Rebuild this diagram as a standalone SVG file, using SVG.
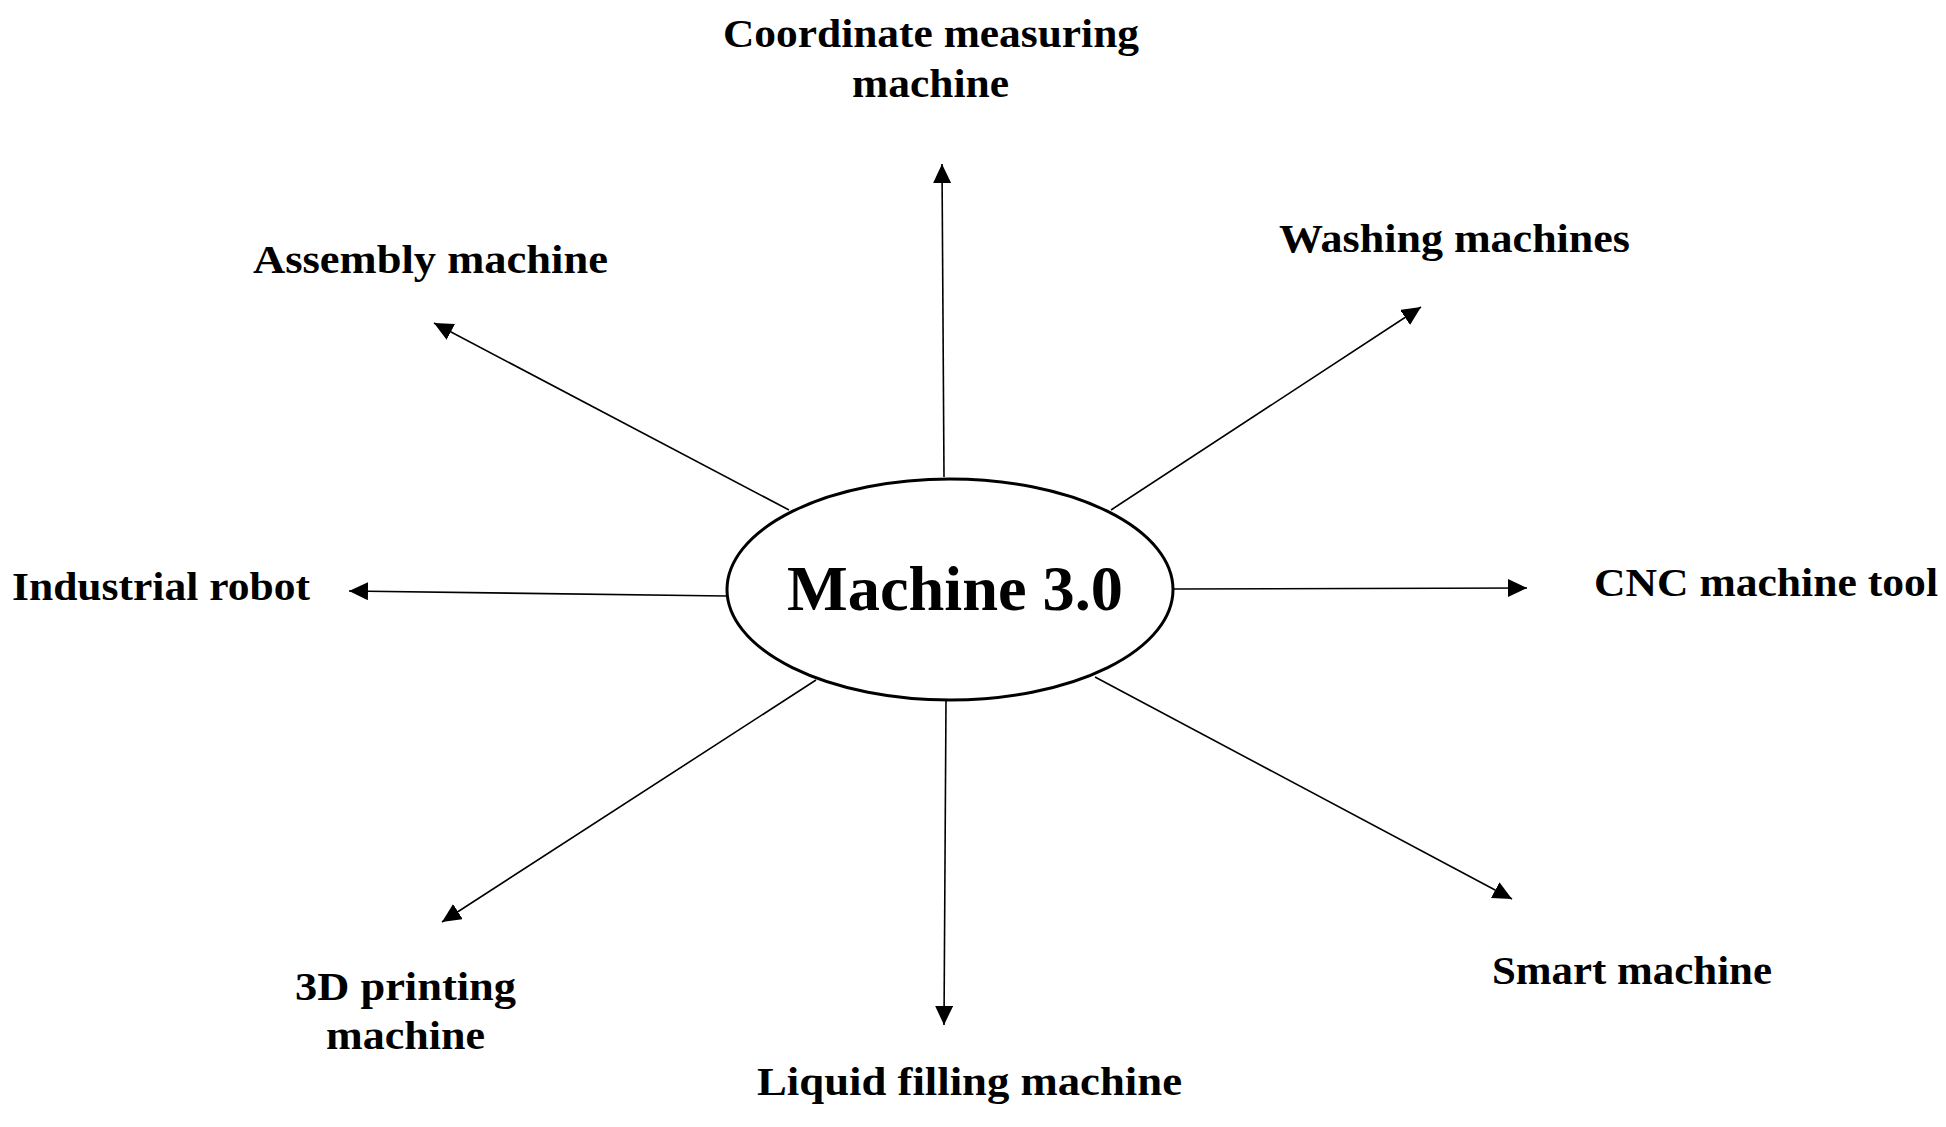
<svg xmlns="http://www.w3.org/2000/svg" width="1946" height="1127" viewBox="0 0 1946 1127">
<style>
.lbl{font-family:"Liberation Serif","DejaVu Serif",serif;font-weight:bold;font-size:39px;fill:#000}
.ttl{font-family:"Liberation Serif","DejaVu Serif",serif;font-weight:bold;font-size:63px;fill:#000}
.con{stroke:#000;stroke-width:1.6;fill:none;marker-end:url(#ah)}
</style>
<defs>
<marker id="ah" markerUnits="userSpaceOnUse" markerWidth="21" markerHeight="19" refX="19" refY="9" orient="auto">
<path d="M0,0 L19,9 L0,18 z" fill="#000"/>
</marker>
</defs>
<rect width="1946" height="1127" fill="#fff"/>
<g id="connectors">
<line class="con" x1="944" y1="477" x2="942" y2="164"/>
<line class="con" x1="789" y1="510" x2="434" y2="323"/>
<line class="con" x1="1111" y1="510" x2="1421" y2="307"/>
<line class="con" x1="726" y1="596" x2="349" y2="591"/>
<line class="con" x1="1174" y1="589" x2="1527" y2="588"/>
<line class="con" x1="816" y1="680" x2="442" y2="922"/>
<line class="con" x1="946" y1="701" x2="944" y2="1025"/>
<line class="con" x1="1095" y1="677" x2="1512" y2="899"/>
</g>
<g id="center">
<ellipse cx="950" cy="589.5" rx="223" ry="110.5" fill="#fff" stroke="#000" stroke-width="3"/>
<text class="ttl" x="787" y="610" textLength="336" lengthAdjust="spacingAndGlyphs">Machine 3.0</text>
</g>
<g id="cmm">
<text class="lbl" x="723" y="47" textLength="416" lengthAdjust="spacingAndGlyphs">Coordinate measuring</text>
<text class="lbl" x="852" y="97" textLength="157" lengthAdjust="spacingAndGlyphs">machine</text>
</g>
<g id="assembly">
<text class="lbl" x="253" y="273" textLength="355" lengthAdjust="spacingAndGlyphs">Assembly machine</text>
</g>
<g id="washing">
<text class="lbl" x="1279" y="252" textLength="351" lengthAdjust="spacingAndGlyphs">Washing machines</text>
</g>
<g id="robot">
<text class="lbl" x="12" y="600" textLength="298" lengthAdjust="spacingAndGlyphs">Industrial robot</text>
</g>
<g id="cnc">
<text class="lbl" x="1594" y="596" textLength="344" lengthAdjust="spacingAndGlyphs">CNC machine tool</text>
</g>
<g id="printing">
<text class="lbl" x="295" y="1000" textLength="221" lengthAdjust="spacingAndGlyphs">3D printing</text>
<text class="lbl" x="326" y="1049" textLength="159" lengthAdjust="spacingAndGlyphs">machine</text>
</g>
<g id="liquid">
<text class="lbl" x="757" y="1095" textLength="425" lengthAdjust="spacingAndGlyphs">Liquid filling machine</text>
</g>
<g id="smart">
<text class="lbl" x="1492" y="984" textLength="280" lengthAdjust="spacingAndGlyphs">Smart machine</text>
</g>
</svg>
